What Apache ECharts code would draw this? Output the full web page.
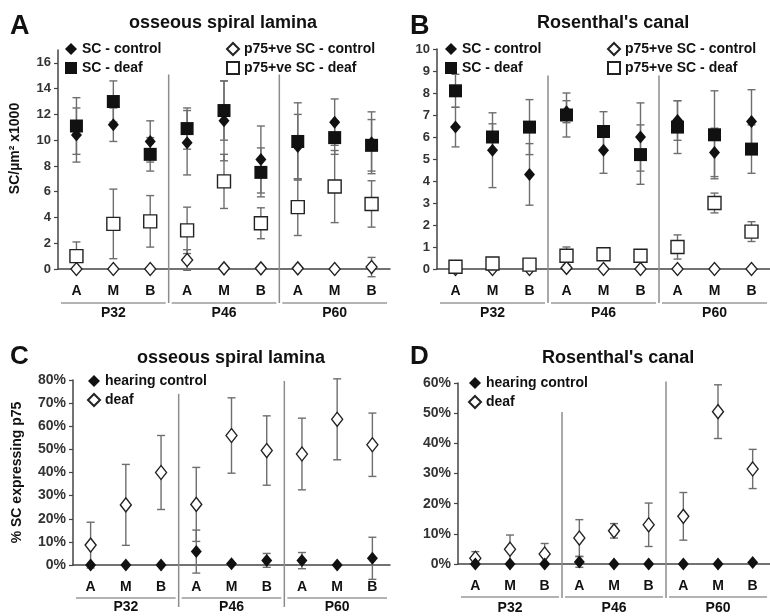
<!DOCTYPE html>
<html lang="en">
<head>
<meta charset="UTF-8">
<title>SC density and p75 expression</title>
<script src="https://cdn.jsdelivr.net/npm/echarts@6/dist/echarts.min.js"></script>
<style>
    html, body { margin: 0; padding: 0; background: #fff; }
    #main { width: 770px; height: 616px; }
</style>
</head>
<body>
<div id="main"></div>
<script>
    // cochlear region (apex / middle / base) for each age group
    var cats = ['A', 'M', 'B', 'A', 'M', 'B', 'A', 'M', 'B'];
    var groups = ['P32', 'P46', 'P60'];
    var groupStart = [0, 3, 6];
    var dividerAfter = [2, 5];

    // A: osseous spiral lamina, SC/um2 x1000
    var ctlA = [10.4, 11.2, 9.9, 9.8, 11.5, 8.5, 9.5, 11.4, 9.8];
    var ctlAErr = [2.1, 1.3, 1.6, 2.5, 3.1, 2.6, 2.5, 1.8, 2.4];
    var deafA = [11.1, 13.0, 8.9, 10.9, 12.3, 7.5, 9.9, 10.2, 9.6];
    var deafAErr = [2.2, 1.6, 1.3, 1.6, 2.3, 1.9, 3.0, 1.3, 2.0];
    var p75CtlA = [0, 0, 0, 0.7, 0.05, 0.05, 0.05, 0, 0.15];
    var p75CtlAErr = [0, 0, 0, 0.8, 0, 0, 0, 0, 0.75];
    var p75DeafA = [1.0, 3.5, 3.7, 3.0, 6.8, 3.55, 4.8, 6.4, 5.05];
    var p75DeafAErr = [1.1, 2.7, 2.0, 1.8, 2.1, 1.2, 2.2, 2.8, 1.8];
    var dividerTopA = [15.1, 15.1];

    // B: Rosenthal's canal, SC/um2 x1000
    var ctlB = [6.45, 5.4, 4.3, 7.15, 5.4, 6.0, 6.75, 5.3, 6.7];
    var ctlBErr = [0.9, 1.7, 1.4, 0.5, 1.05, 1.55, 0.9, 1.1, 1.45];
    var deafB = [8.1, 6.0, 6.45, 7.0, 6.25, 5.2, 6.45, 6.1, 5.45];
    var deafBErr = [0.75, 0.6, 1.25, 1.0, 0.9, 1.35, 1.2, 2.0, 1.1];
    var p75CtlB = [0, 0, 0, 0.05, 0, 0, 0, 0, 0];
    var p75CtlBErr = [0, 0, 0, 0, 0, 0, 0, 0, 0];
    var p75DeafB = [0.1, 0.25, 0.2, 0.6, 0.67, 0.6, 1.0, 3.0, 1.7];
    var p75DeafBErr = [0.1, 0.2, 0.1, 0.4, 0.1, 0.1, 0.55, 0.45, 0.45];
    var dividerTopB = [8.8, 8.8];

    // C: osseous spiral lamina, % SC expressing p75
    var ctlC = [0, 0, 0, 5.8, 0.5, 2.0, 1.9, 0, 2.9];
    var ctlCErr = [0, 0, 0, 9.3, 0.5, 3.0, 3.5, 0, 9.1];
    var deafC = [8.6, 26, 40, 26.2, 56, 49.5, 48, 63, 52];
    var deafCErr = [9.9, 17.5, 16, 16, 16.3, 15, 15.5, 17.5, 13.7];
    var dividerTopC = [74, 79.6];

    // D: Rosenthal's canal, % SC expressing p75
    var ctlD = [0, 0, 0, 0.7, 0, 0, 0, 0, 0.5];
    var ctlDErr = [0, 0, 0, 1.8, 0, 0, 0, 0, 0];
    var deafD = [1.9, 4.9, 3.3, 8.6, 11, 13, 15.8, 50.5, 31.5];
    var deafDErr = [2.2, 4.7, 3.5, 6.1, 2.4, 7.2, 7.9, 8.9, 6.5];
    var dividerTopD = [50.4, 60.5];

    var FONT = 'Arial, "Liberation Sans", sans-serif';

    function points(vals) {
        return vals.map(function (v, i) { return [i, v]; });
    }

    // vertical error bar with caps
    function errorSeries(k, vals, err) {
        return {
            type: 'custom', xAxisIndex: k, yAxisIndex: k, z: 2, silent: true,
            data: vals.map(function (v, i) { return [i, v, err[i]]; }),
            renderItem: function (params, api) {
                var i = api.value(0), v = api.value(1), d = api.value(2);
                if (!d) return;
                var hi = api.coord([i, v + d]), lo = api.coord([i, v - d]);
                var st = {stroke: '#6e6e6e', lineWidth: 1.4};
                return {
                    type: 'group', children: [
                        {type: 'line', shape: {x1: hi[0], y1: hi[1], x2: lo[0], y2: lo[1]}, style: st},
                        {type: 'line', shape: {x1: hi[0] - 4, y1: hi[1], x2: hi[0] + 4, y2: hi[1]}, style: st},
                        {type: 'line', shape: {x1: lo[0] - 4, y1: lo[1], x2: lo[0] + 4, y2: lo[1]}, style: st}
                    ]
                };
            }
        };
    }

    function marker(k, name, vals, symbol, size, filled, z) {
        return {
            type: 'scatter', name: name, xAxisIndex: k, yAxisIndex: k, z: z,
            symbol: symbol, symbolSize: size, data: points(vals),
            itemStyle: filled ? {color: '#111', opacity: 1}
                : {color: '#fff', borderColor: '#222', borderWidth: 1.4, opacity: 1},
            emphasis: {disabled: true}
        };
    }

    // age-group dividers and underlines below the region labels
    function frameSeries(k, tops, divGap, lineGap) {
        return [{
            type: 'custom', xAxisIndex: k, yAxisIndex: k, z: 1, silent: true,
            data: dividerAfter.map(function (c, j) { return [c, tops[j]]; }),
            renderItem: function (params, api) {
                var c = api.value(0), t = api.value(1);
                var a = api.coord([c, t]), b = api.coord([c + 1, 0]);
                var x = (a[0] + b[0]) / 2;
                return {type: 'line', shape: {x1: x, y1: a[1], x2: x, y2: b[1] + divGap},
                    style: {stroke: '#8c8c8c', lineWidth: 1.5}};
            }
        }, {
            type: 'custom', xAxisIndex: k, yAxisIndex: k, z: 1, silent: true,
            data: groupStart.map(function (s) { return [s, 0]; }),
            renderItem: function (params, api) {
                var s = api.value(0);
                var a = api.coord([s, 0]), b = api.coord([s + 2, 0]);
                var bw = api.size([1, 0])[0];
                var y = a[1] + lineGap;
                return {type: 'line', shape: {x1: a[0] - bw / 2 + 3, y1: y, x2: b[0] + bw / 2 - 3, y2: y},
                    style: {stroke: '#9a9a9a', lineWidth: 1.5}};
            }
        }];
    }

    function catAxis(k) {
        return {
            type: 'category', gridIndex: k, data: cats, position: 'bottom',
            axisLine: {lineStyle: {color: '#444', width: 1.5}},
            axisTick: {length: 4, lineStyle: {color: '#444', width: 1.2}},
            axisLabel: {margin: 15, color: '#111', fontSize: 14, fontWeight: 'bold', fontFamily: FONT},
            splitLine: {show: false}
        };
    }

    function groupAxis(k, margin) {
        return {
            type: 'category', gridIndex: k, data: groups, position: 'bottom',
            axisLine: {show: false}, axisTick: {show: false}, splitLine: {show: false},
            axisLabel: {margin: margin, color: '#111', fontSize: 14, fontWeight: 'bold', fontFamily: FONT}
        };
    }

    function valAxis(k, max, interval, pct, size, name, gap, shift) {
        return {
            type: 'value', gridIndex: k, min: 0, max: max, interval: interval,
            name: name, nameLocation: 'middle', nameGap: gap,
            nameTextStyle: {color: '#111', fontSize: 14, fontWeight: 'bold', fontFamily: FONT,
                padding: [0, 0, 0, shift]},
            axisLine: {show: true, lineStyle: {color: '#444', width: 1.5}},
            axisTick: {show: true, length: 4, lineStyle: {color: '#444', width: 1.2}},
            axisLabel: {margin: 7, color: '#333', fontSize: size, fontWeight: 'bold', fontFamily: FONT,
                showMaxLabel: max % interval === 0,
                formatter: pct ? '{value}%' : '{value}'},
            splitLine: {show: false}
        };
    }

    function legendBox(names, left, top) {
        return {
            data: names, orient: 'vertical', left: left, top: top, padding: 0,
            itemGap: 5, itemWidth: 12, itemHeight: 12, selectedMode: false,
            textStyle: {fontSize: 14, fontWeight: 'bold', color: '#111', fontFamily: FONT, lineHeight: 14}
        };
    }

    function titleText(text, left, top, size) {
        return {text: text, left: left, top: top, padding: 0,
            textStyle: {fontSize: size, fontWeight: 'bold', color: '#111', fontFamily: FONT}};
    }

    var series = [];
    // panels A and B
    [[ctlA, ctlAErr, deafA, deafAErr, p75CtlA, p75CtlAErr, p75DeafA, p75DeafAErr, dividerTopA],
     [ctlB, ctlBErr, deafB, deafBErr, p75CtlB, p75CtlBErr, p75DeafB, p75DeafBErr, dividerTopB]]
        .forEach(function (p, k) {
            series = series.concat(frameSeries(k, p[8], 34, 34));
            series.push(errorSeries(k, p[0], p[1]), errorSeries(k, p[2], p[3]),
                errorSeries(k, p[4], p[5]), errorSeries(k, p[6], p[7]));
            series.push(marker(k, 'SC - control', p[0], 'diamond', [11, 13], true, 3));
            series.push(marker(k, 'SC - deaf', p[2], 'rect', 13, true, 4));
            series.push(marker(k, 'p75+ve SC - control', p[4], 'diamond', [11, 13], false, 5));
            series.push(marker(k, 'p75+ve SC - deaf', p[6], 'rect', 13, false, 6));
        });
    // panels C and D
    [[ctlC, ctlCErr, deafC, deafCErr, dividerTopC, 42],
     [ctlD, ctlDErr, deafD, deafDErr, dividerTopD, 34]]
        .forEach(function (p, j) {
            var k = j + 2;
            series = series.concat(frameSeries(k, p[4], p[5], 33));
            series.push(errorSeries(k, p[2], p[3]), errorSeries(k, p[0], p[1]));
            series.push(marker(k, 'deaf', p[2], 'diamond', [11, 14], false, 5));
            series.push(marker(k, 'hearing control', p[0], 'diamond', [11, 13], true, 6));
        });

    var myChart = echarts.init(document.getElementById('main'), null, {renderer: 'canvas'});
    var option = {
        animation: false,
        backgroundColor: '#fff',
        title: [
            titleText('A', 10, 13, 27),
            titleText('osseous spiral lamina', 129, 14, 18),
            titleText('B', 410, 13, 27),
            titleText("Rosenthal's canal", 537, 14, 18),
            titleText('C', 10, 344, 26),
            titleText('osseous spiral lamina', 137, 349, 18),
            titleText('D', 410, 344, 26),
            titleText("Rosenthal's canal", 542, 349, 18)
        ],
        legend: [
            legendBox(['SC - control', 'SC - deaf'], 65, 42),
            legendBox(['p75+ve SC - control', 'p75+ve SC - deaf'], 226, 42),
            legendBox(['SC - control', 'SC - deaf'], 445, 42),
            legendBox(['p75+ve SC - control', 'p75+ve SC - deaf'], 607, 42),
            legendBox(['hearing control', 'deaf'], 87, 374),
            legendBox(['hearing control', 'deaf'], 468, 376)
        ],
        grid: [
            {left: 58, top: 50, width: 332, height: 219},
            {left: 437, top: 49, width: 339, height: 220},
            {left: 73, top: 380, width: 317, height: 185},
            {left: 458, top: 383, width: 319, height: 181}
        ],
        xAxis: [
            catAxis(0), catAxis(1), catAxis(2), catAxis(3),
            groupAxis(0, 37), groupAxis(1, 37), groupAxis(2, 35), groupAxis(3, 37)
        ],
        yAxis: [
            valAxis(0, 17, 2, false, 13, 'SC/µm² x1000', 36, 22),
            valAxis(1, 10, 1, false, 13, '', 30, 0),
            valAxis(2, 80, 10, true, 14, '% SC expressing p75', 49, 0),
            valAxis(3, 60, 10, true, 14, '', 30, 0)
        ],
        series: series
    };
    myChart.setOption(option);
</script>
</body>
</html>
